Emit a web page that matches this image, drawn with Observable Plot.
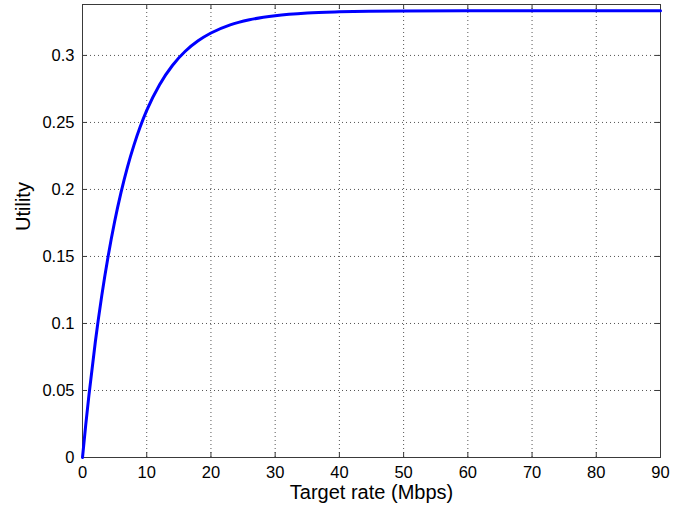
<!DOCTYPE html>
<html>
<head>
<meta charset="utf-8">
<script src="https://cdn.jsdelivr.net/npm/d3@7"></script>
<script src="https://cdn.jsdelivr.net/npm/@observablehq/plot@0.6"></script>
<style>
  html, body { margin: 0; padding: 0; background: #fff; }
  #chart svg { display: block; }
</style>
</head>
<body>
<div id="chart"></div>
<script>
const rate = [0, 0.5, 1, 2, 3, 4, 5, 6, 7, 8, 9, 10, 12, 14, 16, 18, 20, 23, 26, 30, 35, 40, 50, 60, 70, 80, 90];
const utility = [0, 0.0241, 0.0464, 0.0864, 0.1208, 0.1504, 0.1759, 0.1978, 0.2167, 0.2329, 0.2469, 0.2590, 0.2782, 0.2925, 0.3031, 0.3109, 0.3167, 0.3228, 0.3266, 0.3296, 0.3316, 0.3325, 0.3332, 0.3333, 0.3333, 0.3333, 0.3333];
const xTicks = [0, 10, 20, 30, 40, 50, 60, 70, 80, 90];
const yTicks = [0, 0.05, 0.1, 0.15, 0.2, 0.25, 0.3];
const xLabel = "Target rate (Mbps)";
const yLabel = "Utility";

const data = rate.map((r, i) => ({rate: r, utility: utility[i]}));

const W = 688, H = 514;
const mL = 82, mR = 28, mT = 4, mB = 57;
const fw = W - mL - mR, fh = H - mT - mB;
const tick = 5;
const axisColor = "#3a3a3a";
const gridColor = "#555";

const chart = Plot.plot({
  width: W,
  height: H,
  marginLeft: mL,
  marginRight: mR,
  marginTop: mT,
  marginBottom: mB,
  style: {fontFamily: "'Liberation Sans', Arial, sans-serif", background: "#fff", color: "#000"},
  x: {domain: [0, 90]},
  y: {domain: [0, 0.338]},
  marks: [
    Plot.gridX(xTicks.slice(1, -1), {stroke: gridColor, strokeOpacity: 1, strokeDasharray: "1,3"}),
    Plot.gridY(yTicks.slice(1), {stroke: gridColor, strokeOpacity: 1, strokeDasharray: "1,3"}),
    Plot.tickX(xTicks, {x: d => d, stroke: axisColor, insetTop: fh - tick}),
    Plot.tickX(xTicks, {x: d => d, stroke: axisColor, insetBottom: fh - tick}),
    Plot.tickY(yTicks, {y: d => d, stroke: axisColor, insetRight: fw - tick}),
    Plot.tickY(yTicks, {y: d => d, stroke: axisColor, insetLeft: fw - tick}),
    Plot.frame({stroke: axisColor, strokeWidth: 1}),
    Plot.line(data, {x: "rate", y: "utility", stroke: "#0000ff", strokeWidth: 3, curve: "monotone-x"}),
    Plot.axisX(xTicks, {tickSize: 0, tickPadding: 9, fontSize: 16.5, label: null, tickFormat: d => String(d), fill: "#000"}),
    Plot.axisY(yTicks, {tickSize: 0, tickPadding: 8, fontSize: 16.5, label: null, tickFormat: d => String(d), fill: "#000"}),
    Plot.text([xLabel], {frameAnchor: "bottom", dy: 35, lineAnchor: "middle", fontSize: 20, text: d => d, fill: "#000"}),
    Plot.text([yLabel], {frameAnchor: "left", dx: -59, rotate: -90, lineAnchor: "middle", fontSize: 20, text: d => d, fill: "#000"})
  ]
});
document.getElementById("chart").append(chart);
</script>
</body>
</html>
